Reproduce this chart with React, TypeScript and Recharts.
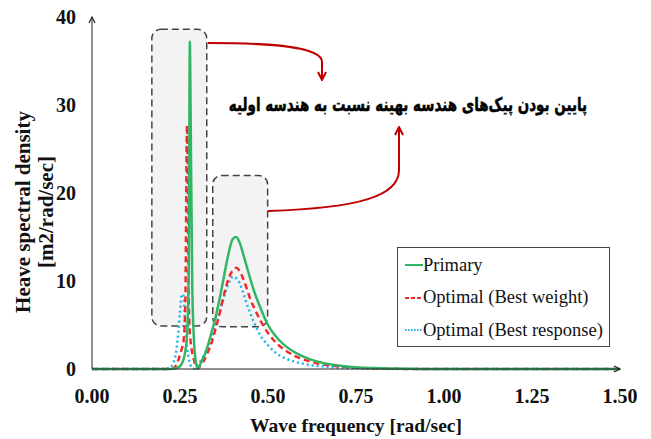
import React from "react";
import {
  Legend,
  Line,
  LineChart,
  ReferenceArea,
  XAxis,
  YAxis,
} from "recharts";

// wave frequency [rad/sec]
const freq = [
  0, 0.1, 0.2, 0.22, 0.23, 0.24, 0.245, 0.25, 0.255, 0.26, 0.265, 0.27, 0.275, 0.278, 0.28,
  0.285, 0.29, 0.295, 0.3, 0.305, 0.31, 0.32, 0.33, 0.34, 0.35, 0.36, 0.37, 0.38, 0.39, 0.4,
  0.41, 0.42, 0.43, 0.44, 0.45, 0.46, 0.48, 0.5, 0.52, 0.55, 0.58, 0.62, 0.66, 0.7, 0.75, 0.8,
  0.9, 1.0, 1.2, 1.5,
];

const primary = [
  0, 0, 0, 0, 0.02, 0.1, 0.2, 0.3, 0.6, 1.1, 2.0, 3.8, 12, 37.2, 30,
  9, 3.0, 0.8, 0.1, 0.3, 0.8, 1.6, 2.8, 4.2, 5.7, 7.5, 9.5, 11.6, 13.5, 14.8,
  15.0, 14.3, 13.0, 11.6, 10.2, 8.9, 6.8, 5.0, 3.8, 2.6, 1.8, 1.1, 0.65, 0.4, 0.2, 0.1,
  0.02, 0, 0, 0,
];

const bestWeight = [
  0, 0, 0, 0, 0.05, 0.5, 1.0, 1.6, 2.3, 3.2, 7, 27.7, 7.5, 4.1, 3.2,
  1.8, 1.0, 0.2, 0.05, 0.2, 0.5, 1.1, 2.0, 3.0, 4.4, 5.9, 7.6, 9.2, 10.5, 11.2,
  11.5, 11.1, 10.2, 9.1, 7.9, 7.0, 5.4, 4.1, 3.1, 2.1, 1.4, 0.85, 0.5, 0.3, 0.15, 0.07,
  0.01, 0, 0, 0,
];

const bestResponse = [
  0, 0, 0, 0.1, 0.6, 2.2, 4.1, 6.5, 8.5, 8.3, 4.8, 2.5, 1.2, 0.7, 0.4,
  0.1, 0.05, 0.2, 0.4, 0.7, 1.0, 1.7, 2.5, 3.5, 4.7, 6.1, 7.5, 8.9, 9.9, 10.5,
  10.3, 9.7, 8.6, 7.4, 6.3, 5.3, 3.7, 2.7, 1.9, 1.2, 0.8, 0.45, 0.28, 0.15, 0.08, 0.03,
  0, 0, 0, 0,
];

const xTicks = [0, 0.25, 0.5, 0.75, 1.0, 1.25, 1.5];
const yTicks = [0, 10, 20, 30, 40];

const seriesNames = ["Primary", "Optimal (Best weight)", "Optimal (Best response)"];
const annotation = "پایین بودن پیک‌های هندسه بهینه نسبت به هندسه اولیه";

const rows = freq.map((f, i) => ({
  f,
  primary: primary[i],
  weight: bestWeight[i],
  response: bestResponse[i],
}));

const serif = "'Liberation Serif', 'Times New Roman', serif";
const colors = {
  green: "#33b565",
  red: "#f42a2a",
  cyan: "#1cb2ee",
  arrow: "#c00000",
  axis: "#222",
  boxFill: "#f3f3f3",
  boxStroke: "#444",
};

const legendItems = [
  { name: seriesNames[0], color: colors.green, dash: undefined },
  { name: seriesNames[1], color: colors.red, dash: "4 2" },
  { name: seriesNames[2], color: colors.cyan, dash: "1.5 1.5" },
];

function RoundBox(props: any) {
  const { x, y, width, height } = props;
  return (
    <rect
      x={x}
      y={y}
      width={width}
      height={height}
      rx={9}
      ry={9}
      fill={colors.boxFill}
      stroke={colors.boxStroke}
      strokeWidth={1.5}
      strokeDasharray="7 4"
    />
  );
}

function LegendBox() {
  return (
    <div
      style={{
        width: 213,
        height: 100,
        boxSizing: "border-box",
        border: "1px solid #444",
        background: "#fff",
        fontFamily: serif,
        fontSize: 18.5,
        color: "#111",
        padding: "1px 0 0 7px",
      }}
    >
      {legendItems.map((item) => (
        <div key={item.name} style={{ display: "flex", alignItems: "center", height: 32.5 }}>
          <svg width={18} height={10}>
            <line
              x1={0}
              y1={5}
              x2={18}
              y2={5}
              stroke={item.color}
              strokeWidth={2}
              strokeDasharray={item.dash}
            />
          </svg>
          <span>{item.name}</span>
        </div>
      ))}
    </div>
  );
}

export default function App() {
  return (
    <div style={{ position: "relative", width: 651, height: 439, background: "#fff" }}>
      <style>{"body{margin:0}"}</style>
      <LineChart
        width={651}
        height={439}
        data={rows}
        margin={{ top: 17, right: 31, bottom: 30, left: 32 }}
      >
        <XAxis
          dataKey="f"
          type="number"
          domain={[0, 1.5]}
          ticks={xTicks}
          tickFormatter={(v) => Number(v).toFixed(2)}
          tickLine={false}
          axisLine={{ stroke: colors.axis }}
          tick={{ fill: "#111", fontSize: 20, fontWeight: 700, fontFamily: serif }}
          tickMargin={14}
          height={40}
        />
        <YAxis
          type="number"
          domain={[0, 40]}
          ticks={yTicks}
          tickLine={false}
          axisLine={{ stroke: colors.axis }}
          tick={{ fill: "#111", fontSize: 20, fontWeight: 700, fontFamily: serif }}
          tickMargin={10}
          width={60}
        />
        <ReferenceArea x1={0.17} x2={0.326} y1={4.9} y2={38.6} shape={<RoundBox />} />
        <ReferenceArea x1={0.343} x2={0.499} y1={4.8} y2={22} shape={<RoundBox />} />
        <Legend
          layout="vertical"
          align="center"
          verticalAlign="middle"
          content={<LegendBox />}
          wrapperStyle={{ position: "absolute", left: 397, top: 247, width: 213, height: 100 }}
        />
        <Line
          dataKey="response"
          name={seriesNames[2]}
          type="monotone"
          stroke={colors.cyan}
          strokeWidth={2.5}
          strokeDasharray="2 3"
          dot={false}
          isAnimationActive={false}
        />
        <Line
          dataKey="weight"
          name={seriesNames[1]}
          type="monotone"
          stroke={colors.red}
          strokeWidth={2.5}
          strokeDasharray="6 4"
          dot={false}
          isAnimationActive={false}
        />
        <Line
          dataKey="primary"
          name={seriesNames[0]}
          type="monotone"
          stroke={colors.green}
          strokeWidth={2.5}
          dot={false}
          isAnimationActive={false}
        />
      </LineChart>

      <svg
        width={651}
        height={439}
        style={{ position: "absolute", left: 0, top: 0, pointerEvents: "none" }}
      >
        <defs>
          <marker
            id="redHead"
            viewBox="0 0 10 10"
            refX={9}
            refY={5}
            markerWidth={5}
            markerHeight={5}
            orient="auto"
          >
            <path d="M1,1 L9,5 L1,9" fill="none" stroke={colors.arrow} strokeWidth={2} />
          </marker>
        </defs>
        {/* axis arrow heads */}
        <polyline points="89,23 92,17 95,23" fill="none" stroke={colors.axis} strokeWidth={1.2} />
        <polyline points="614,366 620,369 614,372" fill="none" stroke={colors.axis} strokeWidth={1.2} />

        <path
          d="M208,43 C268,43 322,46 322,62 L322,80"
          fill="none"
          stroke={colors.arrow}
          strokeWidth={2}
          markerEnd="url(#redHead)"
        />
        <path
          d="M268,211 C360,208 399,196 399,170 L399,127"
          fill="none"
          stroke={colors.arrow}
          strokeWidth={2}
          markerEnd="url(#redHead)"
        />
        {/* squeezed horizontally, the original uses a narrow heavy face */}
        <text
          transform="translate(408,111) scale(0.71,1)"
          textAnchor="middle"
          direction="rtl"
          fontFamily="'DejaVu Sans', 'Noto Sans', sans-serif"
          fontWeight={700}
          fontSize={19}
          stroke="#000"
          strokeWidth={0.5}
          fill="#000"
        >
          {annotation}
        </text>

        <text
          x={356}
          y={432}
          textAnchor="middle"
          fontFamily={serif}
          fontWeight={700}
          fontSize={19.5}
          fill="#111"
        >
          Wave frequency [rad/sec]
        </text>
        <g transform="translate(30,212) rotate(-90)">
          <text textAnchor="middle" fontFamily={serif} fontWeight={700} fontSize={21} fill="#111">
            Heave spectral density
          </text>
          <text y={23} textAnchor="middle" fontFamily={serif} fontWeight={700} fontSize={21} fill="#111">
            [m2/rad/sec]
          </text>
        </g>
      </svg>
    </div>
  );
}
